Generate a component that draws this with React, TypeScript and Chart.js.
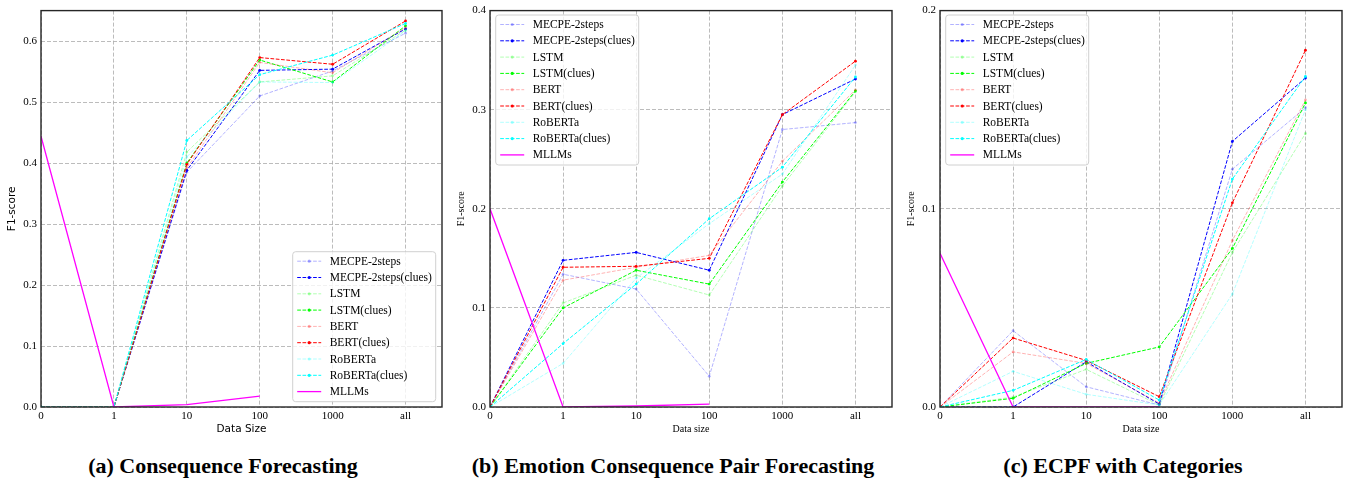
import React, { useEffect, useRef } from 'react';
import { Chart, registerables } from 'chart.js';
Chart.register(...registerables);

const xLabels = ['0', '1', '10', '100', '1000', 'all'];
const seriesNames = [
  'MECPE-2steps', 'MECPE-2steps(clues)', 'LSTM', 'LSTM(clues)',
  'BERT', 'BERT(clues)', 'RoBERTa', 'RoBERTa(clues)', 'MLLMs',
];

// (a) Consequence Forecasting
const aMecpe = [0, 0, 0.385, 0.510, 0.551, 0.613];
const aMecpeClues = [0, 0, 0.388, 0.552, 0.554, 0.620];
const aLstm = [0, 0, 0.418, 0.533, 0.543, 0.618];
const aLstmClues = [0, 0, 0.400, 0.569, 0.533, 0.625];
const aBert = [0, 0, 0.392, 0.565, 0.548, 0.622];
const aBertClues = [0, 0, 0.398, 0.573, 0.562, 0.633];
const aRoberta = [0, 0, 0.410, 0.533, 0.532, 0.617];
const aRobertaClues = [0, 0, 0.437, 0.545, 0.577, 0.629];
const aMllms = [0.444, 0, 0.004, 0.018, null, null];
const aYTicks = [0, 0.1, 0.2, 0.3, 0.4, 0.5, 0.6];

// (b) Emotion Consequence Pair Forecasting
const bMecpe = [0, 0.134, 0.119, 0.031, 0.280, 0.287];
const bMecpeClues = [0, 0.148, 0.156, 0.138, 0.295, 0.331];
const bLstm = [0, 0.105, 0.133, 0.113, 0.223, 0.318];
const bLstmClues = [0, 0.100, 0.138, 0.124, 0.227, 0.319];
const bBert = [0, 0.128, 0.141, 0.153, 0.248, 0.320];
const bBertClues = [0, 0.141, 0.142, 0.150, 0.295, 0.349];
const bRoberta = [0, 0.044, 0.130, 0.185, 0.235, 0.345];
const bRobertaClues = [0, 0.064, 0.124, 0.190, 0.242, 0.333];
const bMllms = [0.2, 0, 0.001, 0.003, null, null];
const bYTicks = [0, 0.1, 0.2, 0.3, 0.4];

// (c) ECPF with Categories
const cMecpe = [0, 0.0385, 0.0102, 0.001, 0.120, 0.151];
const cMecpeClues = [0, 0, 0.0228, 0.0015, 0.134, 0.166];
const cLstm = [0, 0.005, 0.019, 0.001, 0.078, 0.138];
const cLstmClues = [0, 0.0044, 0.022, 0.0303, 0.080, 0.1534];
const cBert = [0, 0.0278, 0.022, 0.002, 0.084, 0.155];
const cBertClues = [0, 0.0348, 0.0235, 0.0052, 0.103, 0.180];
const cRoberta = [0, 0.018, 0.0064, 0.001, 0.057, 0.150];
const cRobertaClues = [0, 0.0084, 0.024, 0.0035, 0.115, 0.1668];
const cMllms = [0.0776, 0, 0, 0, null, null];
const cYTicks = [0, 0.1, 0.2];

const baseColors = ['0,0,255', '0,0,255', '0,255,0', '0,255,0', '255,0,0', '255,0,0', '0,255,255', '0,255,255'];

function buildDatasets(series: (number | null)[][]) {
  return series.map((vals, i) => {
    const isMllm = i === 8;
    const light = !isMllm && i % 2 === 0;
    const color = isMllm ? '#ff00ff' : `rgba(${baseColors[i]},${light ? 0.3 : 1})`;
    return {
      label: seriesNames[i],
      data: vals.map((v, k) => ({ x: k, y: v })),
      borderColor: color,
      backgroundColor: color,
      borderWidth: isMllm ? 1.3 : 1,
      borderDash: isMllm ? [] : [3.7, 1.6],
      pointRadius: isMllm ? 0 : 1.4,
      pointBorderWidth: 0,
      pointHoverRadius: 0,
      spanGaps: false,
      order: 20 - i,
      tension: 0,
    };
  });
}

const legendPlugin = {
  id: 'customLegend',
  afterDraw(chart: any, _args: any, opts: any) {
    const { ctx, chartArea } = chart;
    ctx.save();
    // frame box (spines)
    ctx.strokeStyle = '#262626';
    ctx.lineWidth = 1.4;
    ctx.setLineDash([]);
    ctx.strokeRect(chartArea.left, chartArea.top, chartArea.right - chartArea.left, chartArea.bottom - chartArea.top);
    // legend
    const x = opts.x, y = opts.y, w = 143, h = 150;
    const r = 3;
    ctx.beginPath();
    ctx.moveTo(x + r, y);
    ctx.arcTo(x + w, y, x + w, y + h, r);
    ctx.arcTo(x + w, y + h, x, y + h, r);
    ctx.arcTo(x, y + h, x, y, r);
    ctx.arcTo(x, y, x + w, y, r);
    ctx.closePath();
    ctx.fillStyle = 'rgba(255,255,255,0.8)';
    ctx.fill();
    ctx.strokeStyle = '#d0d0d0';
    ctx.lineWidth = 1;
    ctx.stroke();
    ctx.font = '11.5px "Liberation Serif"';
    ctx.textBaseline = 'middle';
    ctx.textAlign = 'left';
    chart.data.datasets.forEach((ds: any, i: number) => {
      const cy = y + 9.5 + i * 16.3;
      ctx.strokeStyle = ds.borderColor;
      ctx.lineWidth = ds.borderWidth;
      ctx.setLineDash(ds.borderDash || []);
      ctx.beginPath();
      ctx.moveTo(x + 4.5, cy);
      ctx.lineTo(x + 28.5, cy);
      ctx.stroke();
      ctx.setLineDash([]);
      if (ds.pointRadius > 0) {
        ctx.fillStyle = ds.borderColor;
        ctx.beginPath();
        ctx.arc(x + 16.5, cy, 1.6, 0, Math.PI * 2);
        ctx.fill();
      }
      ctx.fillStyle = '#000';
      ctx.fillText(ds.label, x + 37, cy + 0.5);
    });
    ctx.restore();
  },
};

type PanelProps = {
  series: (number | null)[][];
  yMax: number;
  yTicks: number[];
  leftW: number;
  legend: { x: number; y: number };
  titleFont: string;
  titleSize: number;
  xTitle: string;
};

function Panel(p: PanelProps) {
  const ref = useRef<HTMLCanvasElement>(null);
  useEffect(() => {
    const gridColor = 'rgba(176,176,176,0.85)';
    const chart = new Chart(ref.current as HTMLCanvasElement, {
      type: 'line',
      data: { datasets: buildDatasets(p.series) as any },
      plugins: [legendPlugin as any],
      options: {
        animation: false,
        responsive: false,
        maintainAspectRatio: false,
        events: [],
        layout: { padding: { top: 9, right: 4, left: 0, bottom: 0 } },
        plugins: {
          legend: { display: false },
          tooltip: { enabled: false },
          customLegend: p.legend,
        } as any,
        scales: {
          x: {
            type: 'linear',
            min: 0,
            max: 5.5,
            afterBuildTicks: (s: any) => {
              s.ticks = xLabels.map((_, i) => ({ value: i }));
            },
            afterFit: (s: any) => { s.height = 33; },
            ticks: {
              autoSkip: false,
              maxRotation: 0,
              padding: 3,
              color: '#000',
              font: { family: 'Liberation Serif', size: 11 },
              callback: (v: any) => xLabels[Math.round(Number(v))] ?? '',
            },
            grid: { color: gridColor, borderDash: [4, 2], drawTicks: false, lineWidth: 1 } as any,
            border: { display: false, dash: [4, 2] },
            title: {
              display: true,
              text: p.xTitle,
              color: '#000',
              font: { family: p.titleFont, size: p.titleSize },
              padding: { top: 0, bottom: 4.5 },
            },
          },
          y: {
            type: 'linear',
            min: 0,
            max: p.yMax,
            afterBuildTicks: (s: any) => {
              s.ticks = p.yTicks.map((v) => ({ value: v }));
            },
            afterFit: (s: any) => { s.width = p.leftW; },
            ticks: {
              padding: 4,
              color: '#000',
              font: { family: 'Liberation Serif', size: 11 },
              callback: (v: any) => Number(v).toFixed(1),
            },
            grid: { color: gridColor, drawTicks: false, lineWidth: 1 } as any,
            border: { display: false, dash: [4, 2] },
            title: {
              display: true,
              text: 'F1-score',
              color: '#000',
              font: { family: p.titleFont, size: p.titleSize },
              padding: { top: 5.5, bottom: 0 },
            },
          },
        },
      } as any,
    });
    return () => chart.destroy();
  }, []);
  return <canvas ref={ref} width={446} height={440} style={{ display: 'block' }} />;
}

const captionStyle: React.CSSProperties = {
  position: 'absolute',
  top: 452,
  width: 446,
  textAlign: 'center',
  fontFamily: '"Liberation Serif", serif',
  fontWeight: 'bold',
  fontSize: 22,
  lineHeight: '28px',
  color: '#000',
  whiteSpace: 'nowrap',
};

export default function App() {
  return (
    <div style={{ position: 'fixed', left: 0, top: 0, width: 1346, height: 483, background: '#fff', overflow: 'hidden' }}>
      <div style={{ position: 'absolute', left: 0, top: 0 }}>
        <Panel
          series={[aMecpe, aMecpeClues, aLstm, aLstmClues, aBert, aBertClues, aRoberta, aRobertaClues, aMllms]}
          yMax={0.65} yTicks={aYTicks} leftW={41} legend={{ x: 292.7, y: 251.7 }}
          titleFont="DejaVu Sans" titleSize={10.5} xTitle="Data Size"
        />
      </div>
      <div style={{ position: 'absolute', left: 450, top: 0 }}>
        <Panel
          series={[bMecpe, bMecpeClues, bLstm, bLstmClues, bBert, bBertClues, bRoberta, bRobertaClues, bMllms]}
          yMax={0.4} yTicks={bYTicks} leftW={40} legend={{ x: 45.7, y: 15 }}
          titleFont="Liberation Serif" titleSize={10} xTitle="Data size"
        />
      </div>
      <div style={{ position: 'absolute', left: 900, top: 0 }}>
        <Panel
          series={[cMecpe, cMecpeClues, cLstm, cLstmClues, cBert, cBertClues, cRoberta, cRobertaClues, cMllms]}
          yMax={0.2} yTicks={cYTicks} leftW={40} legend={{ x: 45.7, y: 15 }}
          titleFont="Liberation Serif" titleSize={10} xTitle="Data size"
        />
      </div>
      <div style={{ ...captionStyle, left: 0 }}>(a) Consequence Forecasting</div>
      <div style={{ ...captionStyle, left: 450 }}>(b) Emotion Consequence Pair Forecasting</div>
      <div style={{ ...captionStyle, left: 900 }}>(c) ECPF with Categories</div>
    </div>
  );
}
